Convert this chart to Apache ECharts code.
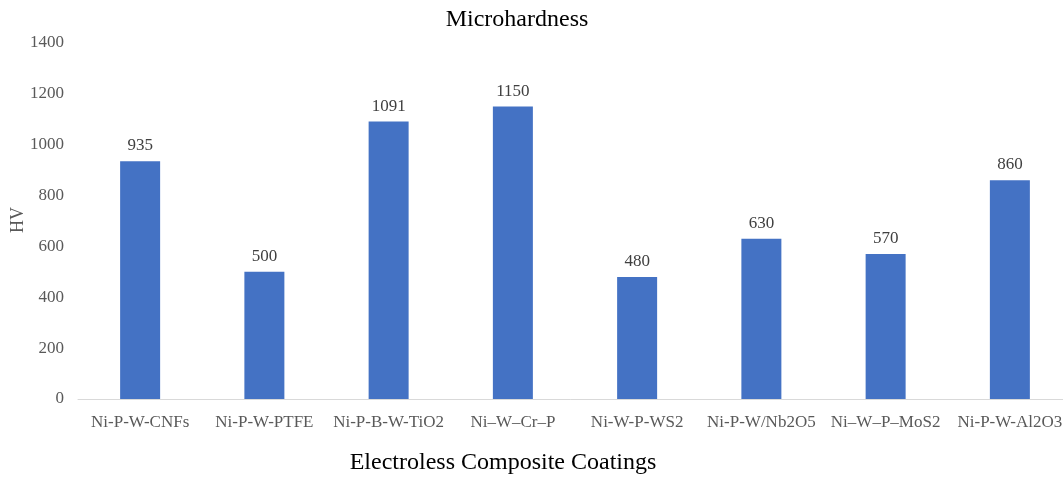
<!DOCTYPE html>
<html>
<head>
<meta charset="utf-8">
<script src="https://cdn.jsdelivr.net/npm/echarts@6/dist/echarts.min.js"></script>
<style>
html,body{margin:0;padding:0;background:#fff;}
#c{width:1063px;height:479px;}
</style>
</head>
<body>
<div id="c"></div>
<script>
const categories = ['Ni-P-W-CNFs','Ni-P-W-PTFE','Ni-P-B-W-TiO2','Ni\u2013W\u2013Cr\u2013P','Ni-W-P-WS2','Ni-P-W/Nb2O5','Ni\u2013W\u2013P\u2013MoS2','Ni-P-W-Al2O3'];
const hardness = [935, 500, 1091, 1150, 480, 630, 570, 860];
const yTicks = [0, 200, 400, 600, 800, 1000, 1200, 1400];

const serif = '"Liberation Serif", "DejaVu Serif", serif';
const chart = echarts.init(document.getElementById('c'));
chart.setOption({
  animation: false,
  backgroundColor: '#ffffff',
  title: [{
    text: 'Microhardness',
    left: 512, top: 3, textAlign: 'center',
    textStyle: {fontFamily: serif, fontSize: 24, fontWeight: 'normal', color: '#000'}
  }, {
    text: 'Electroless Composite Coatings',
    left: 498, top: 446, textAlign: 'center',
    textStyle: {fontFamily: serif, fontSize: 24, fontWeight: 'normal', color: '#000'}
  }],
  graphic: [{
    type: 'text',
    x: 18, y: 220,
    rotation: Math.PI / 2,
    style: {text: 'HV', font: '18px ' + serif, fill: '#595959', align: 'center', verticalAlign: 'middle'}
  }],
  grid: {left: 78, top: 43, width: 994, height: 356, outerBoundsMode: 'none', containLabel: false},
  xAxis: {
    type: 'category',
    data: categories,
    axisLine: {lineStyle: {color: '#D9D9D9', width: 1}},
    axisTick: {show: false},
    axisLabel: {fontFamily: serif, fontSize: 17, color: '#595959', margin: 15, interval: 0}
  },
  yAxis: {
    type: 'value',
    min: yTicks[0], max: yTicks[yTicks.length - 1], interval: 200,
    axisLine: {show: false},
    axisTick: {show: false},
    splitLine: {show: false},
    axisLabel: {fontFamily: serif, fontSize: 17, color: '#595959', margin: 14, formatter: function (v) { return String(v); }}
  },
  series: [{
    type: 'bar',
    data: hardness,
    barWidth: 40,
    itemStyle: {color: '#4472C4'},
    label: {show: true, position: 'top', distance: 7, fontFamily: serif, fontSize: 17, color: '#404040'}
  }]
});
</script>
</body>
</html>
